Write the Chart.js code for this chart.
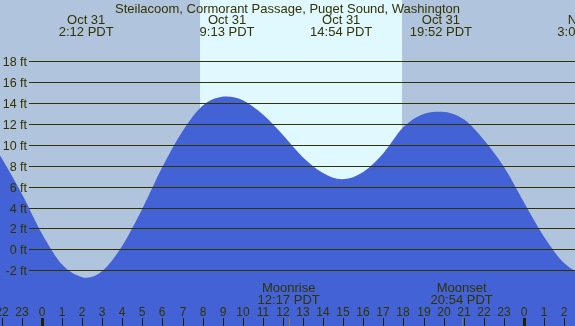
<!DOCTYPE html>
<html>
<head>
<meta charset="utf-8">
<script src="https://cdn.jsdelivr.net/npm/chart.js@4.4.0/dist/chart.umd.min.js"></script>
<style>
    html, body { margin: 0; padding: 0; background: #b0c4de; }
    #tideChart { display: block; }
</style>
</head>
<body>
<canvas id="tideChart" width="575" height="326"></canvas>
<script>
/* global Chart */

const title = 'Steilacoom, Cormorant Passage, Puget Sound, Washington';

// Tide height in feet. Hours counted from midnight Oct 31.
const tideHours = [-3, -2, -1, 0, 1, 2, 2.23, 3, 4, 5, 6, 7, 8, 9.2, 10, 11, 12, 13, 14, 14.92, 16, 17, 18, 19, 19.9, 21, 22, 23, 24, 25, 26, 27.03, 28];
const tideFeet = [11.6, 8.7, 5.3, 1.5, -1.45, -2.67, -2.72, -2.07, 0.35, 3.9, 7.9, 11.3, 13.75, 14.62, 14.27, 12.9, 10.95, 8.8, 7.3, 6.7, 7.4, 9.2, 11.7, 12.95, 13.18, 12.45, 10.5, 7.9, 4.5, 1.2, -1.3, -2.3, -1.9];

const heightTicks = [-2, 0, 2, 4, 6, 8, 10, 12, 14, 16, 18];
const hourTicks = [-2, -1, 0, 1, 2, 3, 4, 5, 6, 7, 8, 9, 10, 11, 12, 13, 14, 15, 16, 17, 18, 19, 20, 21, 22, 23, 24, 25, 26];

// daylight band
const sunrise = 7.87;
const sunset = 17.93;

// highs and lows
const eventHours = [2.2, 9.217, 14.9, 19.867, 27.03];
const eventDates = ['Oct 31', 'Oct 31', 'Oct 31', 'Oct 31', 'Nov 1'];
const eventTimes = ['2:12 PDT', '9:13 PDT', '14:54 PDT', '19:52 PDT', '3:02 PDT'];

const moonHours = [12.283, 20.9];
const moonNames = ['Moonrise', 'Moonset'];
const moonTimes = ['12:17 PDT', '20:54 PDT'];

const TEXT = '#333300';
const FONT = 'Liberation Sans, Arial, sans-serif';

const backdrop = {
    id: 'backdrop',
    beforeDraw(chart) {
        const { ctx, chartArea, scales } = chart;
        ctx.save();
        ctx.fillStyle = '#b0c4de';
        ctx.fillRect(0, 0, chart.width, chart.height);
        const x0 = scales.x.getPixelForValue(sunrise);
        const x1 = scales.x.getPixelForValue(sunset);
        ctx.fillStyle = '#e0f8ff';
        ctx.fillRect(x0, chartArea.top, x1 - x0, chartArea.bottom - chartArea.top);
        ctx.restore();
    }
};

const overlay = {
    id: 'overlay',
    afterDatasetsDraw(chart) {
        const { ctx, scales } = chart;
        const x = scales.x;
        const y = scales.y;
        ctx.save();

        // height grid + labels
        ctx.strokeStyle = TEXT;
        ctx.lineWidth = 1;
        ctx.fillStyle = TEXT;
        ctx.font = '12.5px ' + FONT;
        ctx.textAlign = 'right';
        ctx.textBaseline = 'alphabetic';
        heightTicks.forEach((v) => {
            const py = Math.round(y.getPixelForValue(v)) + 0.5;
            ctx.beginPath();
            ctx.moveTo(29, py);
            ctx.lineTo(chart.width, py);
            ctx.stroke();
            ctx.fillText(v + ' ft', 27, py + 4.5);
        });

        // hour labels and ticks along the bottom
        ctx.font = '12px ' + FONT;
        ctx.textAlign = 'center';
        const bottom = chart.height;
        hourTicks.forEach((h) => {
            const px = Math.round(x.getPixelForValue(h));
            ctx.fillStyle = TEXT;
            ctx.fillText(String((h + 24) % 24), px, bottom - 10);
            const midnight = h % 24 === 0;
            ctx.fillStyle = '#222200';
            ctx.fillRect(midnight ? px - 1 : px, bottom - 8, midnight ? 3 : 1, 8);
        });

        // moon events
        ctx.font = '13px ' + FONT;
        moonHours.forEach((h, i) => {
            const px = x.getPixelForValue(h);
            ctx.fillStyle = TEXT;
            ctx.fillText(moonNames[i], px, bottom - 34);
            ctx.fillText(moonTimes[i], px, bottom - 22);
            ctx.fillStyle = '#8a7a50';
            ctx.fillRect(Math.round(px), bottom - 8, 1, 8);
        });

        // high/low labels
        ctx.fillStyle = TEXT;
        eventHours.forEach((h, i) => {
            const px = x.getPixelForValue(h);
            ctx.fillText(eventDates[i], px, 24);
            ctx.fillText(eventTimes[i], px, 36);
        });

        ctx.fillText(title, chart.width / 2, 12.5);
        ctx.restore();
    }
};

new Chart(document.getElementById('tideChart'), {
    type: 'line',
    data: {
        datasets: [{
            data: tideHours.map((h, i) => ({ x: h, y: tideFeet[i] })),
            fill: 'start',
            backgroundColor: '#4262d6',
            borderWidth: 0,
            pointRadius: 0,
            cubicInterpolationMode: 'monotone',
        }]
    },
    options: {
        responsive: false,
        animation: false,
        devicePixelRatio: 1,
        layout: { padding: 0 },
        scales: {
            x: { type: 'linear', min: -2.092, max: 26.544, display: false },
            y: { min: -7.34, max: 23.87, display: false },
        },
        plugins: {
            legend: { display: false },
            tooltip: { enabled: false },
        }
    },
    plugins: [backdrop, overlay]
});
</script>
</body>
</html>
